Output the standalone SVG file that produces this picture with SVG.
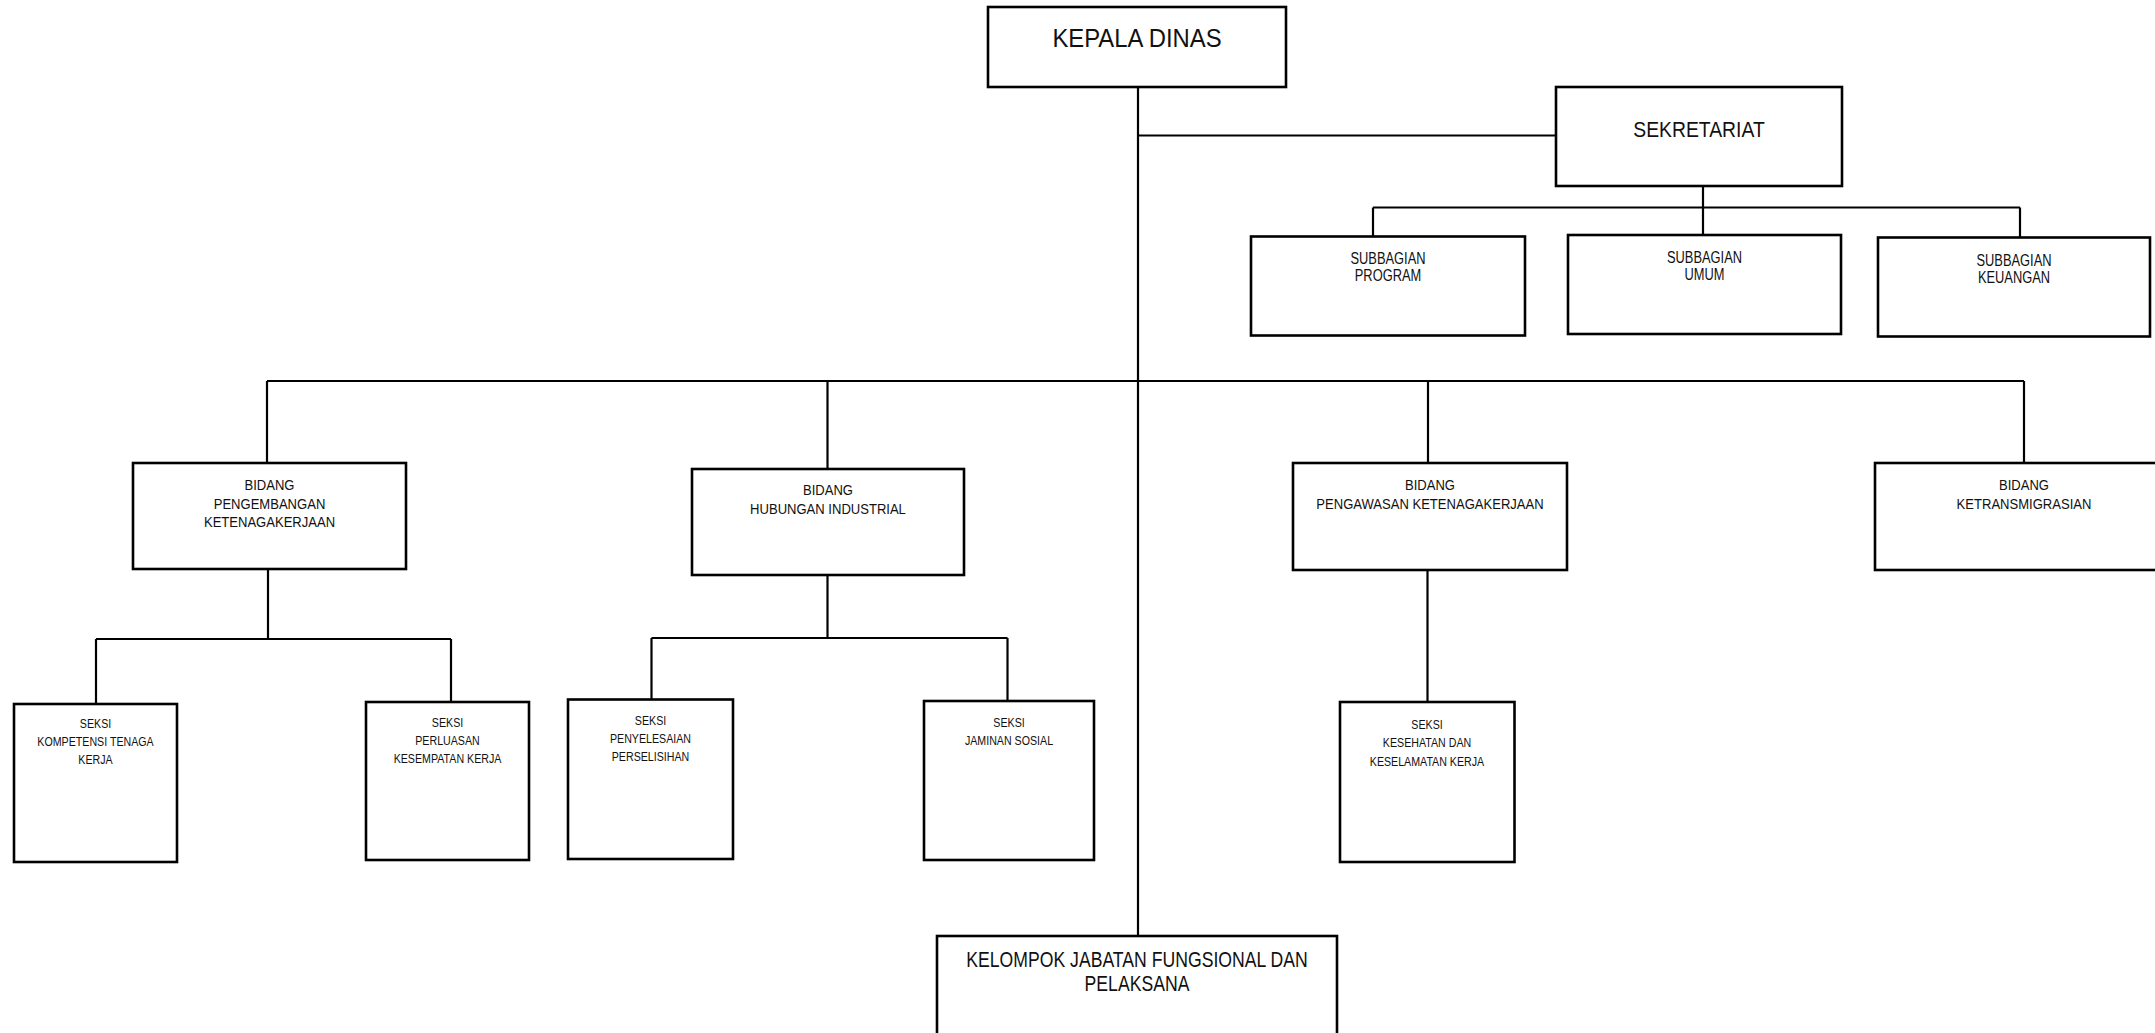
<svg xmlns="http://www.w3.org/2000/svg" width="2155" height="1033" viewBox="0 0 2155 1033">
  <style>
    .box { fill: #ffffff; stroke: #000000; stroke-width: 2.6; }
    .wire { fill: none; stroke: #000000; stroke-width: 2.2; }
    text { font-family: "Liberation Sans", Arial, sans-serif; fill: #111111; text-anchor: middle; }
    .t-head { font-size: 26.5px; }
    .t-sek { font-size: 22.5px; }
    .t-sub { font-size: 16.5px; }
    .t-bid { font-size: 15px; }
    .t-sk { font-size: 13px; }
    .t-kel { font-size: 21.5px; }
  </style>

  <rect x="0" y="0" width="2155" height="1033" fill="#ffffff"/>

  <!-- connectors -->
  <g id="connectors" class="wire">
    <!-- trunk from the head down to the functional group -->
    <path d="M1138 87 V936"/>
    <!-- secretariat branch -->
    <path d="M1138 135.5 H1556"/>
    <path d="M1703 186 V235"/>
    <path d="M1373 207.5 H2020"/>
    <path d="M1373 207.5 V236.5"/>
    <path d="M2020 207.5 V237.5"/>
    <!-- division bus -->
    <path d="M267 381 H2024"/>
    <path d="M267 381 V463"/>
    <path d="M827.5 381 V469"/>
    <path d="M1428 381 V463"/>
    <path d="M2024 381 V463"/>
    <!-- sections under Pengembangan -->
    <path d="M268 569 V639"/>
    <path d="M96 639 H451"/>
    <path d="M96 639 V704"/>
    <path d="M451 639 V702"/>
    <!-- sections under Hubungan Industrial -->
    <path d="M827.5 575 V638"/>
    <path d="M651.5 638 H1007.5"/>
    <path d="M651.5 638 V699.5"/>
    <path d="M1007.5 638 V701"/>
    <!-- section under Pengawasan -->
    <path d="M1427.5 570 V702"/>
  </g>

  <g id="kepala-dinas">
    <rect class="box" x="988" y="7" width="298" height="80"/>
    <text class="t-head" transform="translate(1137 0) scale(0.9 1)" x="0" y="46.7">KEPALA DINAS</text>
  </g>

  <g id="sekretariat">
    <rect class="box" x="1556" y="87" width="286" height="99"/>
    <text class="t-sek" transform="translate(1699 0) scale(0.86 1)" x="0" y="137">SEKRETARIAT</text>
  </g>

  <g id="subbagian-program">
    <rect class="box" x="1251" y="236.5" width="274" height="99"/>
    <text class="t-sub" transform="translate(1388 0) scale(0.78 1)" x="0"><tspan x="0" y="264">SUBBAGIAN</tspan><tspan x="0" y="281.5">PROGRAM</tspan></text>
  </g>

  <g id="subbagian-umum">
    <rect class="box" x="1568" y="235" width="273" height="99"/>
    <text class="t-sub" transform="translate(1704.5 0) scale(0.78 1)" x="0"><tspan x="0" y="263">SUBBAGIAN</tspan><tspan x="0" y="280.5">UMUM</tspan></text>
  </g>

  <g id="subbagian-keuangan">
    <rect class="box" x="1878" y="237.5" width="272" height="99"/>
    <text class="t-sub" transform="translate(2014 0) scale(0.78 1)" x="0"><tspan x="0" y="266">SUBBAGIAN</tspan><tspan x="0" y="283.5">KEUANGAN</tspan></text>
  </g>

  <g id="bidang-pengembangan">
    <rect class="box" x="133" y="463" width="273" height="106"/>
    <text class="t-bid" transform="translate(269.5 0) scale(0.87 1)" x="0"><tspan x="0" y="490">BIDANG</tspan><tspan x="0" y="509">PENGEMBANGAN</tspan><tspan x="0" y="527.5">KETENAGAKERJAAN</tspan></text>
  </g>

  <g id="bidang-hubungan-industrial">
    <rect class="box" x="692" y="469" width="272" height="106"/>
    <text class="t-bid" transform="translate(828 0) scale(0.87 1)" x="0"><tspan x="0" y="495">BIDANG</tspan><tspan x="0" y="514">HUBUNGAN INDUSTRIAL</tspan></text>
  </g>

  <g id="bidang-pengawasan">
    <rect class="box" x="1293" y="463" width="274" height="107"/>
    <text class="t-bid" transform="translate(1430 0) scale(0.87 1)" x="0"><tspan x="0" y="490">BIDANG</tspan><tspan x="0" y="509">PENGAWASAN KETENAGAKERJAAN</tspan></text>
  </g>

  <g id="bidang-ketransmigrasian">
    <rect class="box" x="1875" y="463" width="298" height="107"/>
    <text class="t-bid" transform="translate(2024 0) scale(0.87 1)" x="0"><tspan x="0" y="490">BIDANG</tspan><tspan x="0" y="509">KETRANSMIGRASIAN</tspan></text>
  </g>

  <g id="seksi-kompetensi">
    <rect class="box" x="14" y="704" width="163" height="158"/>
    <text class="t-sk" transform="translate(95.5 0) scale(0.82 1)" x="0"><tspan x="0" y="728">SEKSI</tspan><tspan x="0" y="746.5">KOMPETENSI TENAGA</tspan><tspan x="0" y="764">KERJA</tspan></text>
  </g>

  <g id="seksi-perluasan">
    <rect class="box" x="366" y="702" width="163" height="158"/>
    <text class="t-sk" transform="translate(447.5 0) scale(0.82 1)" x="0"><tspan x="0" y="727">SEKSI</tspan><tspan x="0" y="745.5">PERLUASAN</tspan><tspan x="0" y="763">KESEMPATAN KERJA</tspan></text>
  </g>

  <g id="seksi-penyelesaian">
    <rect class="box" x="568" y="699.5" width="165" height="159.5"/>
    <text class="t-sk" transform="translate(650.5 0) scale(0.82 1)" x="0"><tspan x="0" y="725">SEKSI</tspan><tspan x="0" y="743.5">PENYELESAIAN</tspan><tspan x="0" y="761">PERSELISIHAN</tspan></text>
  </g>

  <g id="seksi-jaminan-sosial">
    <rect class="box" x="924" y="701" width="170" height="159"/>
    <text class="t-sk" transform="translate(1009 0) scale(0.82 1)" x="0"><tspan x="0" y="727">SEKSI</tspan><tspan x="0" y="745.5">JAMINAN SOSIAL</tspan></text>
  </g>

  <g id="seksi-kesehatan">
    <rect class="box" x="1340" y="702" width="174.5" height="160"/>
    <text class="t-sk" transform="translate(1427 0) scale(0.82 1)" x="0"><tspan x="0" y="729">SEKSI</tspan><tspan x="0" y="747.5">KESEHATAN DAN</tspan><tspan x="0" y="766">KESELAMATAN KERJA</tspan></text>
  </g>

  <g id="kelompok-jabatan-fungsional">
    <rect class="box" x="937" y="936" width="400" height="110"/>
    <text class="t-kel" transform="translate(1137 0) scale(0.82 1)" x="0"><tspan x="0" y="967">KELOMPOK JABATAN FUNGSIONAL DAN</tspan><tspan x="0" y="991">PELAKSANA</tspan></text>
  </g>
</svg>
